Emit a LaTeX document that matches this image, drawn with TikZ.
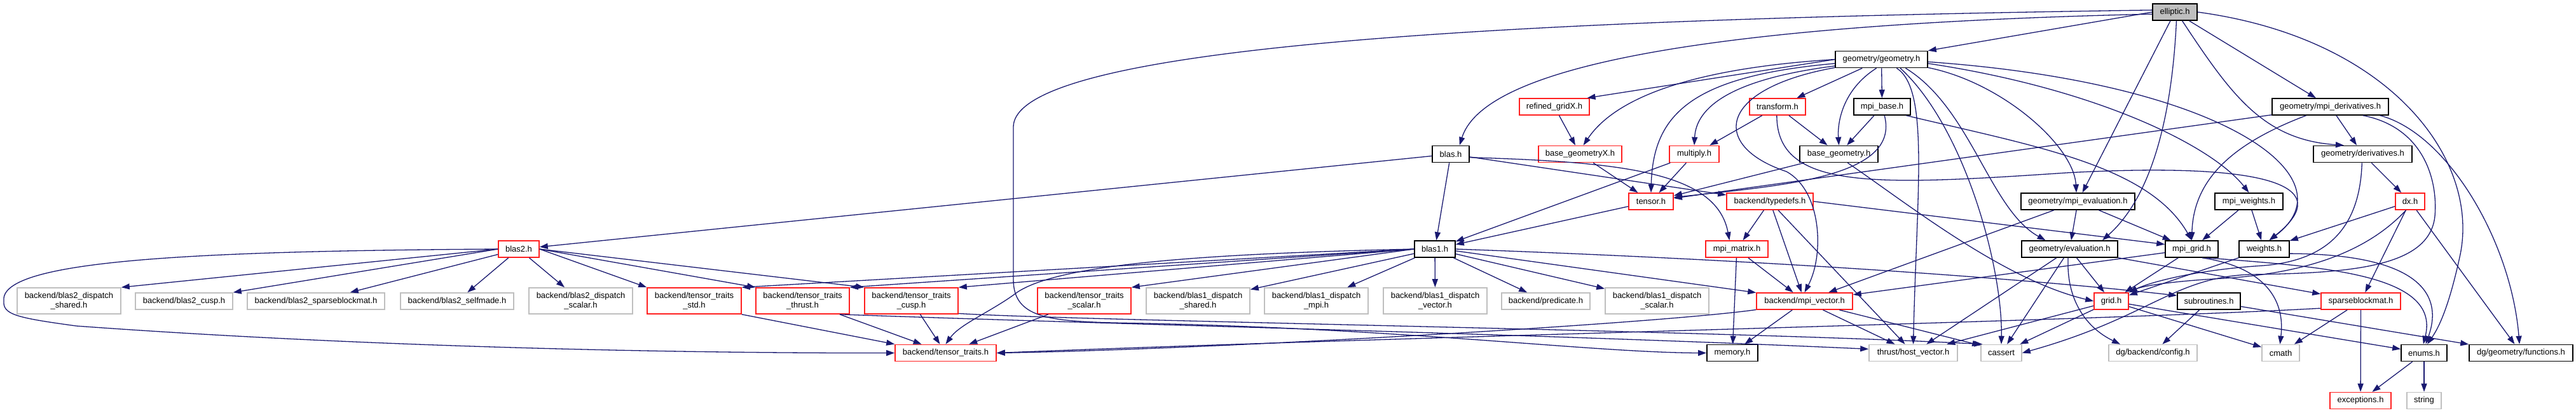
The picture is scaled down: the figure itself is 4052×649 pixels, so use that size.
\documentclass[tikz,border=0pt]{standalone}
\usepackage{fontspec}
\setmainfont{Liberation Sans}
\usetikzlibrary{arrows.meta}
\definecolor{edgec}{HTML}{191970}
\definecolor{boxgrey}{HTML}{BFBFBF}
\definecolor{boxred}{HTML}{FF2020}
\tikzset{
 nd/.style={rectangle, inner sep=0pt, align=center, minimum height=26pt, line width=1.6pt, font=\fontsize{13}{15}\selectfont},
 docn/.style={nd, draw=black},
 undn/.style={nd, draw=boxgrey},
 trn/.style={nd, draw=boxred},
 two/.style={minimum height=41pt},
 e/.style={draw=edgec, line width=1.3pt, -{Triangle[length=13pt,width=9pt]}},
}
\begin{document}
\begin{tikzpicture}[x=1pt,y=-1pt]
\useasboundingbox (0,0) rectangle (4052,649);
% row 0
\node[docn, fill=boxgrey, minimum width=70pt] (E) at (3421,19) {elliptic.h};
% row 1
\node[docn, minimum width=145pt] (G) at (2959.5,93.5) {geometry/geometry.h};
% row 2
\node[trn, minimum width=110pt] (RGX) at (2445,168) {refined\_gridX.h};
\node[trn, minimum width=88pt] (TRANS) at (2796,168) {transform.h};
\node[docn, minimum width=89pt] (MPIBASE) at (2960.5,168) {mpi\_base.h};
\node[docn, minimum width=183pt] (MD) at (3665.5,168) {geometry/mpi\_derivatives.h};
% row 3
\node[docn, minimum width=58pt] (B) at (2282,242.5) {blas.h};
\node[trn, minimum width=131pt] (BGX) at (2485.5,242.5) {base\_geometryX.h};
\node[trn, minimum width=78pt] (MULT) at (2665,242.5) {multiply.h};
\node[docn, minimum width=123pt] (BG) at (2892.5,242.5) {base\_geometry.h};
\node[docn, minimum width=155pt] (D) at (3716.5,242.5) {geometry/derivatives.h};
% row 4
\node[trn, minimum width=70pt] (TENSOR) at (2597,317) {tensor.h};
\node[trn, minimum width=136pt] (TYPEDEFS) at (2784,317) {backend/typedefs.h};
\node[docn, minimum width=179pt] (ME) at (3268.5,317) {geometry/mpi\_evaluation.h};
\node[docn, minimum width=107pt] (MPIW) at (3537.5,317) {mpi\_weights.h};
\node[trn, minimum width=46pt] (DX) at (3791,317) {dx.h};
% row 5
\node[trn, minimum width=64pt] (BLAS2) at (816,392) {blas2.h};
\node[docn, minimum width=64pt] (BLAS1) at (2257,392) {blas1.h};
\node[trn, minimum width=98pt] (MPIMAT) at (2732,392) {mpi\_matrix.h};
\node[docn, minimum width=151pt] (EV) at (3255.5,392) {geometry/evaluation.h};
\node[docn, minimum width=83pt] (MPIGRID) at (3447.5,392) {mpi\_grid.h};
\node[docn, minimum width=79pt] (W) at (3561.5,392) {weights.h};
% row 6
\node[undn, two, minimum width=163pt] (B2DS) at (108.5,473.5) {backend/blas2\_dispatch\\\_shared.h};
\node[undn, minimum width=153pt] (B2CUSP) at (289.5,474) {backend/blas2\_cusp.h};
\node[undn, minimum width=216pt] (B2SBM) at (497,474) {backend/blas2\_sparseblockmat.h};
\node[undn, minimum width=178pt] (B2SELF) at (719,474) {backend/blas2\_selfmade.h};
\node[undn, two, minimum width=163pt] (B2DSC) at (913.5,473.5) {backend/blas2\_dispatch\\\_scalar.h};
\node[trn, two, minimum width=148pt] (TTSTD) at (1092,473.5) {backend/tensor\_traits\\\_std.h};
\node[trn, two, minimum width=147pt] (TTTHR) at (1262.5,473.5) {backend/tensor\_traits\\\_thrust.h};
\node[trn, two, minimum width=147pt] (TTCUSP) at (1433.5,473.5) {backend/tensor\_traits\\\_cusp.h};
\node[trn, two, minimum width=147pt] (TTSCA) at (1705.5,473.5) {backend/tensor\_traits\\\_scalar.h};
\node[undn, two, minimum width=163pt] (B1DS) at (1884.5,473.5) {backend/blas1\_dispatch\\\_shared.h};
\node[undn, two, minimum width=163pt] (B1MPI) at (2070.5,473.5) {backend/blas1\_dispatch\\\_mpi.h};
\node[undn, two, minimum width=163pt] (B1VEC) at (2257.5,473.5) {backend/blas1\_dispatch\\\_vector.h};
\node[undn, minimum width=139pt] (PRED) at (2431.5,474) {backend/predicate.h};
\node[undn, two, minimum width=163pt] (B1SCA) at (2606.5,473.5) {backend/blas1\_dispatch\\\_scalar.h};
\node[trn, minimum width=151pt] (MPIVEC) at (2838.5,474) {backend/mpi\_vector.h};
\node[trn, minimum width=54pt] (GRID) at (3321,474) {grid.h};
\node[docn, minimum width=99pt] (SUB) at (3474.5,474) {subroutines.h};
\node[trn, minimum width=125pt] (SBM) at (3713.5,474) {sparseblockmat.h};
% row 7
\node[trn, minimum width=159pt] (TT) at (1487.5,555.5) {backend/tensor\_traits.h};
\node[docn, minimum width=80pt] (MEM) at (2725,555.5) {memory.h};
\node[undn, minimum width=139pt] (HOSTVEC) at (3009.5,555.5) {thrust/host\_vector.h};
\node[undn, minimum width=64pt] (CASSERT) at (3148,555.5) {cassert};
\node[undn, minimum width=139pt] (CONFIG) at (3386.5,555.5) {dg/backend/config.h};
\node[undn, minimum width=59pt] (CMATH) at (3587.5,555.5) {cmath};
\node[docn, minimum width=72pt] (ENUMS) at (3813,555.5) {enums.h};
\node[docn, minimum width=163pt] (FUNCS) at (3965.5,555.5) {dg/geometry/functions.h};
% row 8
\node[trn, minimum width=96pt] (EXC) at (3713,630.5) {exceptions.h};
\node[undn, minimum width=54pt] (STR) at (3813,630.5) {string};

% ---------- edges: elliptic.h
\draw[e] (E.west) -- (G.north east);
\draw[e] (E.185) .. controls (2600,40) and (2330,120) .. (B.45);
\draw[e] (E.175) .. controls (2400,30) and (1594,70) .. (1594,200) -- (1594,440) .. controls (1594,500) and (1650,505) .. (1750,508) .. controls (2200,515) and (2500,555) .. (MEM.west);
\draw[e] (E) -- (ME);
\draw[e] (E.-80) .. controls (3418,150) and (3395,300) .. (EV.15);
\draw[e] (E.-50) .. controls (3510,150) and (3560,220) .. (D.155);
\draw[e] (E) -- (MD);
\draw[e] (E.east) .. controls (3760,60) and (3900,250) .. (3870,400) .. controls (3855,470) and (3840,510) .. (ENUMS.70);
% ---------- geometry.h
\draw[e] (G.west) -- (RGX.15);
\draw[e] (G.west) .. controls (2620,110) and (2530,170) .. (BGX.70);
\draw[e] (G.-175) .. controls (2660,120) and (2600,180) .. (TENSOR.north);
\draw[e] (G.-172) .. controls (2720,125) and (2668,170) .. (MULT.north);
\draw[e] (G) -- (TRANS);
\draw[e] (G.-120) .. controls (2900,140) and (2890,190) .. (BG.north);
\draw[e] (G) -- (MPIBASE);
\draw[e] (G.-170) .. controls (2700,140) and (2690,230) .. (2810,270) .. controls (2865,300) and (2870,400) .. (MPIVEC.north);
\draw[e] (G.-30) .. controls (3035,140) and (3015,300) .. (HOSTVEC.north);
\draw[e] (G.-25) .. controls (3090,200) and (3150,420) .. (CASSERT.north);
\draw[e] (G.-20) .. controls (3100,170) and (3130,330) .. (EV.160);
\draw[e] (G.-10) .. controls (3150,130) and (3262,230) .. (ME.100);
\draw[e] (G.-5) .. controls (3300,140) and (3480,230) .. (MPIW.north);
\draw[e] (G.-3) .. controls (3500,130) and (3700,280) .. (W.60);
% ---------- mpi_derivatives / derivatives
\draw[e] (MD) -- (D);
\draw[e] (MD.-160) .. controls (3500,230) and (3450,290) .. (MPIGRID.north);
\draw[e] (MD) -- (TENSOR);
\draw[e] (MD.-15) .. controls (3810,200) and (3835,280) .. (3830,340) .. controls (3822,420) and (3700,430) .. (3540,432) .. controls (3420,436) and (3380,500) .. (CASSERT.east);
\draw[e] (MD.-10) .. controls (3850,210) and (3950,380) .. (FUNCS.100);
\draw[e] (D) -- (DX);
\draw[e] (D.-95) .. controls (3712,360) and (3660,410) .. (3560,418) .. controls (3450,425) and (3380,445) .. (GRID.north east);
% ---------- blas.h
\draw[e] (B) -- (BLAS2);
\draw[e] (B) -- (BLAS1);
\draw[e] (B) -- (TYPEDEFS);
\draw[e] (B.-10) .. controls (2550,255) and (2700,270) .. (MPIMAT.130);
% ---------- row 2/3 small ones
\draw[e] (RGX) -- (BGX);
\draw[e] (TRANS) -- (MULT);
\draw[e] (TRANS) -- (BG);
\draw[e] (TRANS.-95) .. controls (2795,300) and (2950,292) .. (3250,272) .. controls (3560,255) and (3680,290) .. (W.60);
\draw[e] (MPIBASE) -- (BG);
\draw[e] (MPIBASE.-75) .. controls (2990,280) and (2800,292) .. (TENSOR.10);
\draw[e] (MPIBASE.-20) .. controls (3200,230) and (3380,260) .. (MPIGRID.north);
\draw[e] (BGX) -- (TENSOR);
\draw[e] (MULT) -- (TENSOR);
\draw[e] (MULT) -- (BLAS1);
\draw[e] (BG) -- (TENSOR);
\draw[e] (BG.-45) .. controls (3000,320) and (3150,440) .. (GRID.west);
\draw[e] (TENSOR) -- (BLAS1);
% ---------- typedefs, mpi_matrix, mpi_evaluation
\draw[e] (TYPEDEFS) -- (MPIMAT);
\draw[e] (TYPEDEFS) -- (MPIVEC);
\draw[e] (TYPEDEFS) -- (HOSTVEC);
\draw[e] (TYPEDEFS.east) -- (MPIGRID.170);
\draw[e] (MPIMAT) -- (MEM);
\draw[e] (MPIMAT) -- (MPIVEC);
\draw[e] (ME) -- (MPIVEC);
\draw[e] (ME) -- (EV);
\draw[e] (ME) -- (MPIGRID);
\draw[e] (MPIW) -- (MPIGRID);
\draw[e] (MPIW) -- (W);
% ---------- dx.h
\draw[e] (DX) -- (W);
\draw[e] (DX.-115) .. controls (3720,400) and (3620,430) .. (3500,438) .. controls (3420,442) and (3370,450) .. (GRID.north east);
\draw[e] (DX) -- (SBM);
\draw[e] (DX) -- (FUNCS);
% ---------- evaluation, mpi_grid, weights
\draw[e] (EV) -- (HOSTVEC);
\draw[e] (EV) -- (CASSERT);
\draw[e] (EV) -- (GRID);
\draw[e] (EV.-100) .. controls (3250,470) and (3280,515) .. (CONFIG.165);
\draw[e] (EV) -- (SBM);
\draw[e] (MPIGRID) -- (GRID);
\draw[e] (MPIGRID) -- (MPIVEC);
\draw[e] (MPIGRID.-40) .. controls (3560,420) and (3595,470) .. (CMATH.95);
\draw[e] (MPIGRID.-30) .. controls (3650,420) and (3840,430) .. (ENUMS.95);
\draw[e] (W) -- (GRID);
\draw[e] (W.-10) .. controls (3800,400) and (3845,460) .. (ENUMS.80);
% ---------- grid, subroutines, sparseblockmat, enums
\draw[e] (GRID) -- (CMATH);
\draw[e] (GRID) -- (ENUMS);
\draw[e] (GRID) -- (HOSTVEC);
\draw[e] (GRID) -- (CASSERT);
\draw[e] (SUB) -- (CONFIG);
\draw[e] (SUB) -- (FUNCS);
\draw[e] (SBM) -- (CMATH);
\draw[e] (SBM) -- (EXC);
\draw[e] (SBM.-170) .. controls (3300,505) and (2200,530) .. (TT.east);
\draw[e] (ENUMS) -- (EXC);
\draw[e] (ENUMS) -- (STR);
% ---------- mpi_vector
\draw[e] (MPIVEC.-170) .. controls (2600,510) and (1900,550) .. (TT.east);
\draw[e] (MPIVEC) -- (MEM);
\draw[e] (MPIVEC) -- (HOSTVEC);
\draw[e] (MPIVEC) -- (CASSERT.160);
% ---------- blas1.h
\draw[e] (BLAS1.west) -- (TTSTD.north east);
\draw[e] (BLAS1.west) -- (TTTHR.north east);
\draw[e] (BLAS1.west) -- (TTCUSP.north east);
\draw[e] (BLAS1.west) -- (TTSCA.north east);
\draw[e] (BLAS1) -- (B1DS);
\draw[e] (BLAS1) -- (B1MPI);
\draw[e] (BLAS1) -- (B1VEC);
\draw[e] (BLAS1) -- (PRED);
\draw[e] (BLAS1) -- (B1SCA);
\draw[e] (BLAS1.-5) -- (MPIVEC.170);
\draw[e] (BLAS1.east) .. controls (2800,410) and (3200,440) .. (SUB.170);
\draw[e] (BLAS1.west) .. controls (1850,400) and (1660,420) .. (1600,460) .. controls (1560,490) and (1510,510) .. (TT.north);
% ---------- blas2.h
\draw[e] (BLAS2.west) -- (B2DS.north east);
\draw[e] (BLAS2.west) -- (B2CUSP.north east);
\draw[e] (BLAS2) -- (B2SBM);
\draw[e] (BLAS2) -- (B2SELF);
\draw[e] (BLAS2) -- (B2DSC);
\draw[e] (BLAS2.east) -- (TTSTD.north west);
\draw[e] (BLAS2.east) -- (TTTHR.north west);
\draw[e] (BLAS2.east) -- (TTCUSP.north west);
\draw[e] (BLAS2.west) .. controls (300,395) and (0,410) .. (6,473) .. controls (4,495) and (25,500) .. (120,513) .. controls (600,548) and (1100,556) .. (TT.west);
% ---------- tensor_traits_*
\draw[e] (TTSTD.south east) -- (TT.north west);
\draw[e] (TTTHR) -- (TT);
\draw[e] (TTCUSP) -- (TT);
\draw[e] (TTSCA) -- (TT);
\draw[e] (TTTHR.-20) .. controls (1800,512) and (2400,525) .. (HOSTVEC.175);
\draw[e] (TTCUSP.-15) .. controls (1700,505) and (2700,520) .. (CASSERT.155);
\end{tikzpicture}
\end{document}
